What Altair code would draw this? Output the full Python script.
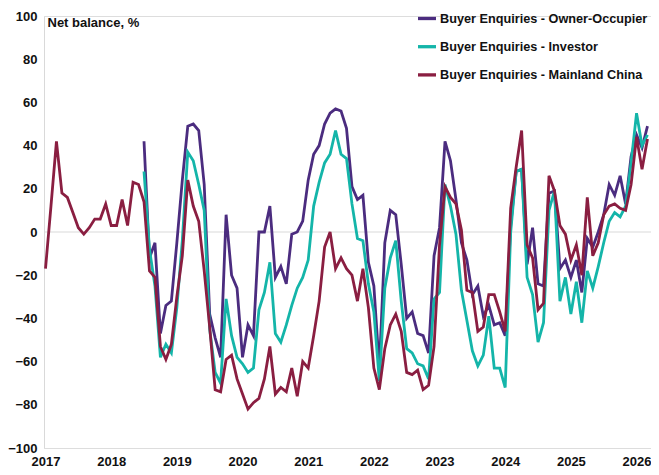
import altair as alt
import pandas as pd

# Months since Jan 2017 (0 = Jan 2017 ... 110 = Mar 2026)
MONTHS = list(range(111))
YEAR_TICKS = list(range(0, 109, 12))
YEAR_LABELS = [str(2017 + i) for i in range(10)]
Y_TICKS = list(range(-100, 101, 20))

SERIES = [
    "Buyer Enquiries - Owner-Occupier",
    "Buyer Enquiries - Investor",
    "Buyer Enquiries - Mainland China",
]
COLORS = ["#4B2C7F", "#14B5A9", "#8A1E41"]

mainland = [
    -17, 12, 42, 18, 16, 9, 2, -1, 2, 6, 6, 13,
    3, 3, 15, 3, 23, 22, 14, -18, -21, -53, -59, -52,
    -30, -11, 24, 12, 5, -18, -44, -73, -74, -59, -57, -68,
    -75, -82, -79, -77, -68, -53, -75, -72, -74, -63, -76, -60,
    -63, -48, -32, -7, 0, -17, -12, -17, -20, -32, -17, -35,
    -63, -73, -54, -43, -38, -46, -65, -66, -64, -73, -71, -53,
    -6, 21, 16, 13, 1, -27, -28, -46, -44, -29, -29, -37,
    -46, 11, 30, 47, -6, -12, -36, -33, 26, 19, 3, -1,
    -13, -6, -20, 16, -11, -5, 8, 12, 13, 11, 10, 22,
    44, 29, 43,
]

owner = [None] * 18 + [
    42, -12, -5, -47, -34, -32,
    -5, 24, 49, 50, 47, 22, -38, -49, -58, 8, -20, -26,
    -58, -43, -48, 0, 0, 12, -21, -16, -24, -1, 0, 5,
    24, 36, 40, 50, 55, 57, 56, 48, 21, 15, 17, -14,
    -25, -63, -5, 10, 8, -15, -40, -37, -47, -48, -56, -11,
    2, 42, 33, 15, -5, -13, -29, -25, -39, -34, -43, -42,
    -48, 3, 28, 29, -15, 2, -24, -25, 18, 19, -17, -13,
    -21, -13, -28, -3, -7, 0, 8, 22, 17, 26, 13, 35,
    45, 39, 49,
]

investor = [None] * 18 + [
    28, -8, -25, -58, -52, -56,
    -35, -4, 37, 33, 22, 10, -45, -65, -70, -31, -48, -58,
    -61, -65, -63, -36, -28, -14, -47, -51, -43, -34, -26, -21,
    -13, 12, 23, 32, 36, 47, 36, 34, 13, -3, -4, -24,
    -37, -69, -26, -12, -4, -32, -54, -56, -61, -62, -68, -31,
    -28, 22, 12, -1, -27, -41, -55, -62, -57, -39, -63, -63,
    -72, 0, 28, 29, -21, -29, -51, -42, 10, 19, -32, -21,
    -38, -23, -42, -18, -26, -16, -5, 5, 9, 7, 12, 32,
    55, 40, 45,
]

rows = []
for order, (name, vals) in enumerate(zip(SERIES, [owner, investor, mainland])):
    for m, v in zip(MONTHS, vals):
        if v is not None:
            rows.append({"m": m, "v": v, "s": name, "o": order})
df = pd.DataFrame(rows)

FONT = "Liberation Sans"
TXT = "#111111"

label_expr = "[" + ",".join(f"'{l}'" for l in YEAR_LABELS) + "][round(datum.value/12)]"

x_enc = alt.X(
    "m:Q",
    scale=alt.Scale(domain=[-0.274, 110.64], nice=False, zero=False),
    axis=alt.Axis(
        values=YEAR_TICKS, labelExpr=label_expr, domain=False, ticks=False,
        grid=False, labelFontSize=13, labelFontWeight="bold", labelFont=FONT,
        labelColor=TXT, labelPadding=17, labelBaseline="alphabetic",
        labelFlush=False, labelOverlap=False, title=None,
    ),
)
y_enc = alt.Y(
    "v:Q",
    scale=alt.Scale(domain=[-100, 100], nice=False, zero=False),
    axis=alt.Axis(
        values=Y_TICKS, domain=True, domainColor="#d9d9d9", domainWidth=1,
        ticks=False, grid=False, labelFontSize=13, labelFontWeight="bold",
        labelFont=FONT, labelColor=TXT, labelPadding=7,
        title="Net balance, %", titleAngle=0, titleX=3, titleY=10,
        titleAlign="left", titleBaseline="alphabetic", titleFontSize=13,
        titleFontWeight="bold", titleFont=FONT, titleColor=TXT,
    ),
)

zero = alt.Chart(pd.DataFrame({"y": [0]})).mark_rule(
    color="#d9d9d9", strokeWidth=1
).encode(y=alt.Y("y:Q", scale=alt.Scale(domain=[-100, 100], nice=False)))

lines = alt.Chart(df).mark_line(strokeWidth=2.8).encode(
    x=x_enc,
    y=y_enc,
    color=alt.Color(
        "s:N",
        scale=alt.Scale(domain=SERIES, range=COLORS),
        legend=alt.Legend(
            orient="none", legendX=372, legendY=-8.5, title=None,
            symbolType="stroke", symbolSize=324, symbolStrokeWidth=3.3,
            labelFontSize=12.7, labelFontWeight="bold", labelFont=FONT,
            labelColor=TXT, rowPadding=10.2, labelOffset=2, padding=0,
            labelLimit=400,
        ),
    ),
    order=alt.Order("o:Q"),
)

chart = alt.layer(zero, lines).properties(
    width=607,
    height=432,
    autosize=alt.AutoSizeParams(type="none"),
    padding={"left": 36, "top": 8, "right": 0, "bottom": 19},
).configure_view(stroke=None).configure(background="white")

chart.save("out.html", embed_options={"renderer": "svg", "actions": False})
